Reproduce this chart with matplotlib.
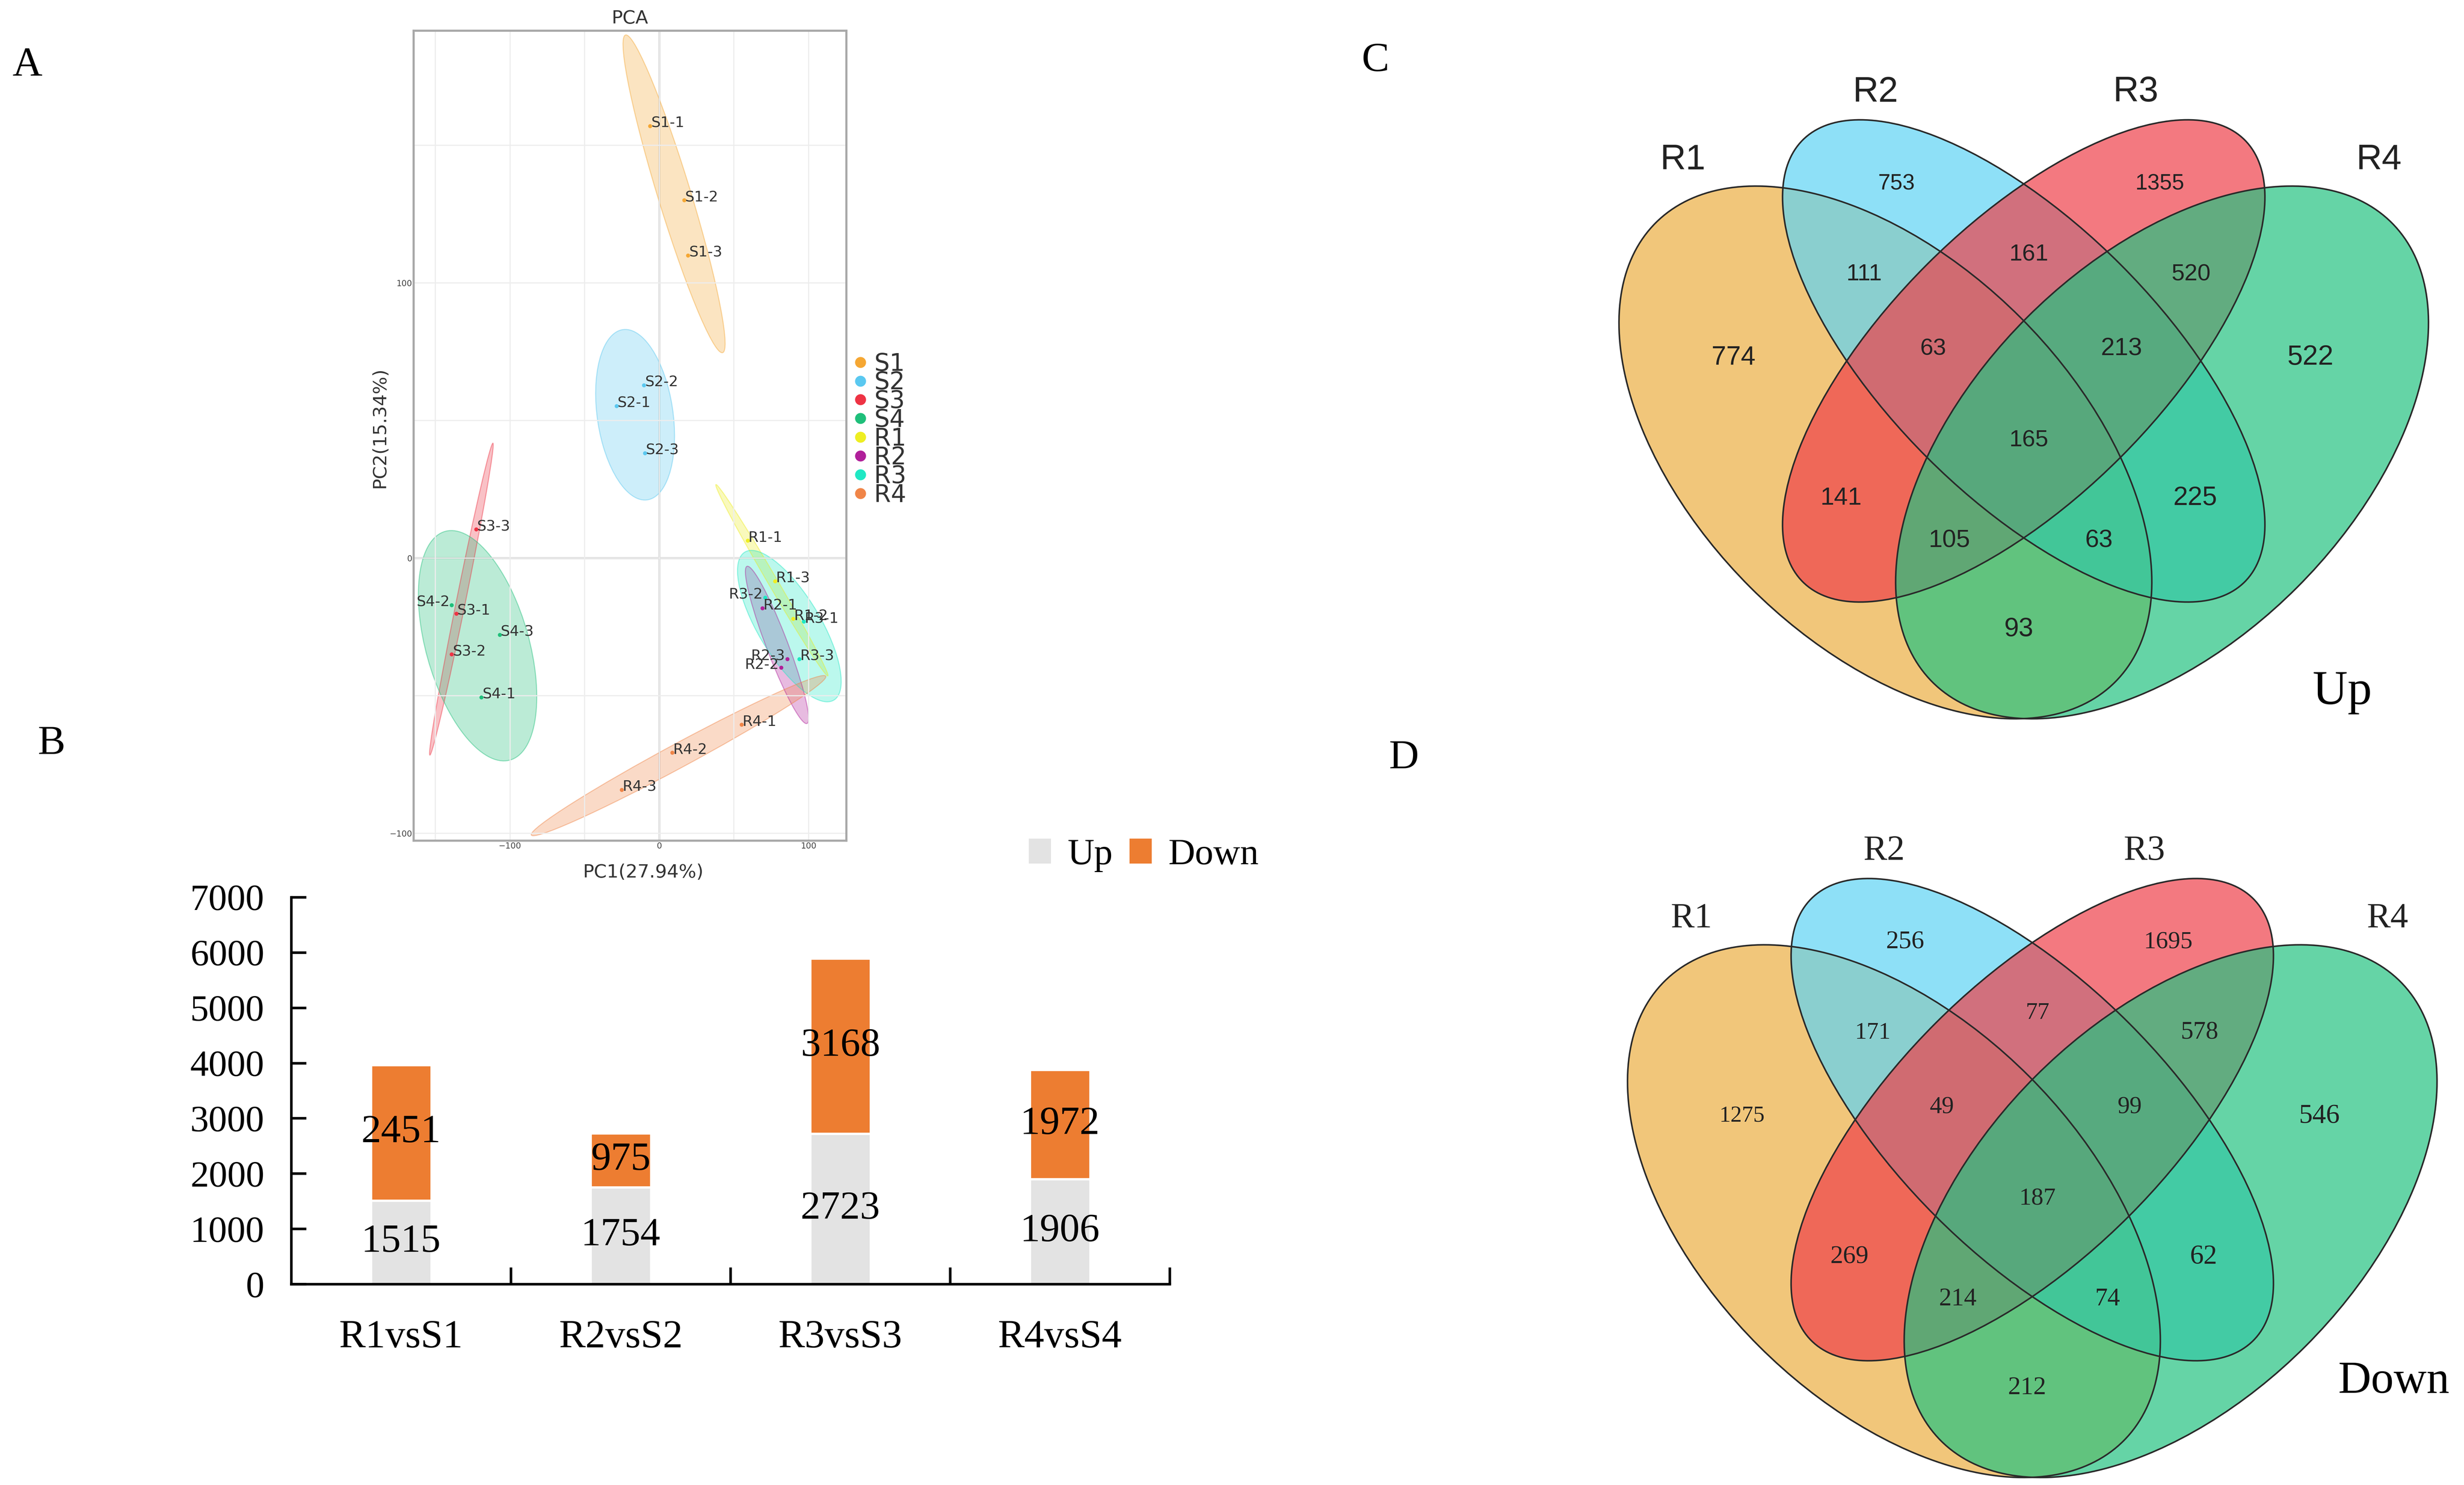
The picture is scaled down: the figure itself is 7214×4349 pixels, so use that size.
import numpy as np
import matplotlib
matplotlib.use("Agg")
import matplotlib.pyplot as plt
from matplotlib.patches import Ellipse, Patch
from matplotlib.lines import Line2D

# ---------------- data ----------------
# PCA scores
sample_names = ["S1-1", "S1-2", "S1-3", "S2-1", "S2-2", "S2-3",
                "S3-1", "S3-2", "S3-3", "S4-1", "S4-2", "S4-3",
                "R1-1", "R1-2", "R1-3", "R2-1", "R2-2", "R2-3",
                "R3-1", "R3-2", "R3-3", "R4-1", "R4-2", "R4-3"]
pc1 = [-6.1, 16.7, 19.3, -28.6, -10.2, -9.6,
       -135.9, -139.0, -122.6, -119.1, -139.0, -106.9,
       59.2, 89.7, 77.6, 69.2, 81.7, 85.8,
       96.8, 70.9, 93.9, 55.2, 8.8, -25.1]
pc2 = [157.0, 130.0, 110.0, 55.3, 62.8, 38.1,
       -20.2, -35.0, 10.4, -50.6, -17.1, -27.9,
       6.3, -22.1, -8.4, -18.2, -39.8, -36.7,
       -23.1, -14.4, -36.7, -60.5, -70.7, -84.2]
pca_groups = ["S1", "S2", "S3", "S4", "R1", "R2", "R3", "R4"]
pc1_label = "PC1(27.94%)"
pc2_label = "PC2(15.34%)"

# DEG counts
comparisons = ["R1vsS1", "R2vsS2", "R3vsS3", "R4vsS4"]
up_counts = [1515, 1754, 2723, 1906]
down_counts = [2451, 975, 3168, 1972]

# Venn counts (membership R1 R2 R3 R4)
venn_sets = ["R1", "R2", "R3", "R4"]
region_keys = ["1000", "0100", "0010", "0001", "1100", "0110", "0011",
               "1010", "0101", "1001", "1110", "0111", "1011", "1101", "1111"]
venn_up = [774, 753, 1355, 522, 111, 161, 520, 141, 225, 93, 63, 213, 105, 63, 165]
venn_down = [1275, 256, 1695, 546, 171, 77, 578, 269, 62, 212, 49, 99, 214, 74, 187]

# ---------------- styles ----------------
W, H, DPI = 7214, 4349, 300
SERIF = ["Liberation Serif", "DejaVu Serif"]
SANS = ["Liberation Sans", "DejaVu Sans"]
pca_colors = ["#F5A733", "#5AC8F0", "#EE3344", "#1FBF7A",
              "#EEEE22", "#B0209A", "#20E8C4", "#F08548"]
left_labels = {"S4-2", "R3-2", "R2-3", "R2-2"}
venn_colors = ["#ECAF42", "#5FD3F4", "#EF414A", "#24C381"]

fig = plt.figure(figsize=(W / DPI, H / DPI), dpi=DPI, facecolor="white")


def fbox(x0, y0, x1, y1):
    return [x0 / W, 1 - y1 / H, (x1 - x0) / W, (y1 - y0) / H]


# ---------------- A: PCA ----------------
ax = fig.add_axes(fbox(1211, 90, 2478, 2462))
ax.set_xlim(-164.5, 125.4)
ax.set_ylim(-102.7, 191.6)
ax.set_xticks([-100, 0, 100])
ax.set_yticks([-100, 0, 100])
ax.set_xticks([-150, -50, 50], minor=True)
ax.set_yticks([-50, 50, 150], minor=True)
ax.grid(which="both", color="#EDEDED", lw=0.8, zorder=0)
ax.axhline(0, color="#C8C8C8", lw=1.3, zorder=0.5)
ax.axvline(0, color="#C8C8C8", lw=1.3, zorder=0.5)
ax.tick_params(which="both", length=0, labelsize=5.8, labelcolor="#444444", pad=1)
for s in ax.spines.values():
    s.set_color("#A8A8A8")
    s.set_linewidth(1.5)

pc1a = np.array(pc1)
pc2a = np.array(pc2)
grp_of = [n.split("-")[0] for n in sample_names]
k = np.sqrt(5.991)
for g, col in zip(pca_groups, pca_colors):
    idx = [i for i, gg in enumerate(grp_of) if gg == g]
    x = pc1a[idx]
    y = pc2a[idx]
    cov = np.cov(x, y)
    vals, vecs = np.linalg.eigh(cov)
    order = vals.argsort()[::-1]
    vals, vecs = vals[order], vecs[:, order]
    ang = np.degrees(np.arctan2(vecs[1, 0], vecs[0, 0]))
    wdt, hgt = 2 * k * np.sqrt(np.clip(vals, 1e-9, None))
    ax.add_patch(Ellipse((x.mean(), y.mean()), wdt, hgt, angle=ang,
                         facecolor=col, alpha=0.3, edgecolor="none", zorder=1))
    ax.add_patch(Ellipse((x.mean(), y.mean()), wdt, hgt, angle=ang,
                         facecolor="none", edgecolor=col, alpha=0.45, lw=0.7, zorder=1.1))
    ax.scatter(x, y, s=8, color=col, zorder=3, linewidths=0)

for n, xv, yv in zip(sample_names, pc1, pc2):
    if n in left_labels:
        ax.annotate(n, (xv, yv), xytext=(-1.5, 2), textcoords="offset points",
                    ha="right", va="center", fontsize=10.3, color="#333333", zorder=4)
    else:
        ax.annotate(n, (xv, yv), xytext=(0.6, 2), textcoords="offset points",
                    ha="left", va="center", fontsize=10.3, color="#333333", zorder=4)

ax.set_title("PCA", fontsize=13, color="#333333", pad=5)
ax.set_xlabel(pc1_label, fontsize=13, color="#333333", labelpad=6)
ax.xaxis.set_label_coords(0.531, -0.028)
ax.set_ylabel(pc2_label, fontsize=13, color="#333333", labelpad=6)
ax.yaxis.set_label_coords(-0.058, 0.51)

handles = [Line2D([], [], marker="o", ls="none", markersize=7.7, color=c,
                  markeredgewidth=0) for c in pca_colors]
fig.legend(handles, pca_groups, loc="center left",
           bbox_to_anchor=(2492 / W, 1 - 1258 / H), bbox_transform=fig.transFigure,
           frameon=False, fontsize=17, handlelength=0.75, handletextpad=0.2,
           labelspacing=-0.2, borderpad=0, borderaxespad=0, labelcolor="#333333")

# ---------------- B: bars ----------------
axb = fig.add_axes(fbox(853, 2628, 3425, 3761))
xpos = np.arange(len(comparisons))
bw = 0.275
axb.bar(xpos, up_counts, bw, color="#E3E3E3", edgecolor="white", linewidth=1.6, zorder=2)
axb.bar(xpos, down_counts, bw, bottom=up_counts, color="#ED7D31",
        edgecolor="white", linewidth=1.6, zorder=2)
for xi, u, d in zip(xpos, up_counts, down_counts):
    axb.text(xi, u / 2, str(u), ha="center", va="center", fontsize=28,
             family=SERIF, color="black", zorder=3)
    axb.text(xi, u + d / 2, str(d), ha="center", va="center", fontsize=28,
             family=SERIF, color="black", zorder=3)
axb.set_xlim(-0.5, 3.5)
axb.set_ylim(0, 7000)
axb.set_yticks(np.arange(0, 7001, 1000))
axb.set_xticks(xpos)
axb.set_xticklabels(comparisons)
axb.set_xticks(xpos + 0.5, minor=True)
for s in ["top", "right"]:
    axb.spines[s].set_visible(False)
for s in ["left", "bottom"]:
    axb.spines[s].set_linewidth(1.8)
    axb.spines[s].set_color("black")
axb.tick_params(axis="y", direction="in", length=10.5, width=1.8, labelsize=26, pad=19)
axb.tick_params(axis="x", which="major", length=0, labelsize=28, pad=25)
axb.tick_params(axis="x", which="minor", direction="in", length=11.8, width=1.8)
for lab in axb.get_xticklabels() + axb.get_yticklabels():
    lab.set_family(SERIF)
fig.legend([Patch(facecolor="#E3E3E3"), Patch(facecolor="#ED7D31")], ["Up", "Down"],
           ncol=2, loc="center left", bbox_to_anchor=(3012 / W, 1 - 2505 / H),
           bbox_transform=fig.transFigure, frameon=False,
           prop={"family": SERIF, "size": 26}, handlelength=0.6, handleheight=0.66,
           handletextpad=0.45, columnspacing=0.45, borderpad=0, borderaxespad=0)

# ---------------- C / D: Venn ----------------
ell_geom = [((-405, -268), 1902, 1118, -45),
            ((0, 0), 1830, 800, -45),
            ((0, 0), 1830, 800, 45),
            ((405, -268), 1902, 1118, 45)]
region_pos = {"1000": (-850, 10), "0100": (-372, 519), "0010": (398, 519),
              "0001": (840, 10), "1100": (-467, 254), "0110": (15, 312),
              "0011": (490, 254), "1010": (-535, -403), "0101": (502, -402),
              "1001": (-15, -786), "1110": (-265, 36), "0111": (286, 36),
              "1011": (-218, -526), "1101": (220, -526), "1111": (15, -232)}
set_label_pos = [(-998, 588), (-434, 786), (328, 786), (1040, 588)]
size_up = [18.5, 15.5, 15.5, 19.5, 16.5, 16.5, 16.5, 17.5, 18.5, 18.5, 16.5, 17.5, 17.5, 17.5, 16.5]
size_down = [16, 18, 17.2, 19.2, 16.8, 16.8, 17.7, 18, 19.2, 18, 17.2, 17.2, 17.7, 17.7, 17.2]


def venn(origin, counts, sizes, fam, setsize, title, title_pos, title_size):
    ox, oy = origin
    x0, x1, y0, y1 = -1330, 1280, -1150, 900
    axv = fig.add_axes(fbox(ox + x0, oy - y1, ox + x1, oy - y0))
    axv.set_xlim(x0, x1)
    axv.set_ylim(y0, y1)
    axv.axis("off")
    for (c, w_, h_, a_), col in zip(ell_geom, venn_colors):
        axv.add_patch(Ellipse(c, w_, h_, angle=a_, facecolor=col, alpha=0.7,
                              edgecolor="none", zorder=1))
    for (c, w_, h_, a_) in ell_geom:
        axv.add_patch(Ellipse(c, w_, h_, angle=a_, facecolor="none",
                              edgecolor="#2A2A2A", lw=1.1, zorder=2))
    for key, cnt, sz in zip(region_keys, counts, sizes):
        px, py = region_pos[key]
        axv.text(px, py, str(cnt), ha="center", va="center", fontsize=sz,
                 family=fam, color="#222222", zorder=3)
    for name, (px, py) in zip(venn_sets, set_label_pos):
        axv.text(px, py, name, ha="center", va="center", fontsize=setsize,
                 family=fam, color="#222222", zorder=3)
    axv.text(title_pos[0], title_pos[1], title, ha="center", va="center",
             fontsize=title_size, family=SERIF, color="black", zorder=3)


venn((5925, 1057), venn_up, size_up, SANS, 25, "Up", (933, -971), 34)
venn((5950, 3279), venn_down, size_down, SERIF, 25, "Down", (1058, -767), 32)

# ---------------- panel letters ----------------
for letter, (px, py) in zip("ABCD", [(37, 222), (111, 2208), (3987, 208), (4067, 2250)]):
    fig.text(px / W, 1 - py / H, letter, fontsize=29, family=SERIF,
             ha="left", va="baseline", color="black")

fig.savefig("out.png", dpi=DPI, facecolor="white")
